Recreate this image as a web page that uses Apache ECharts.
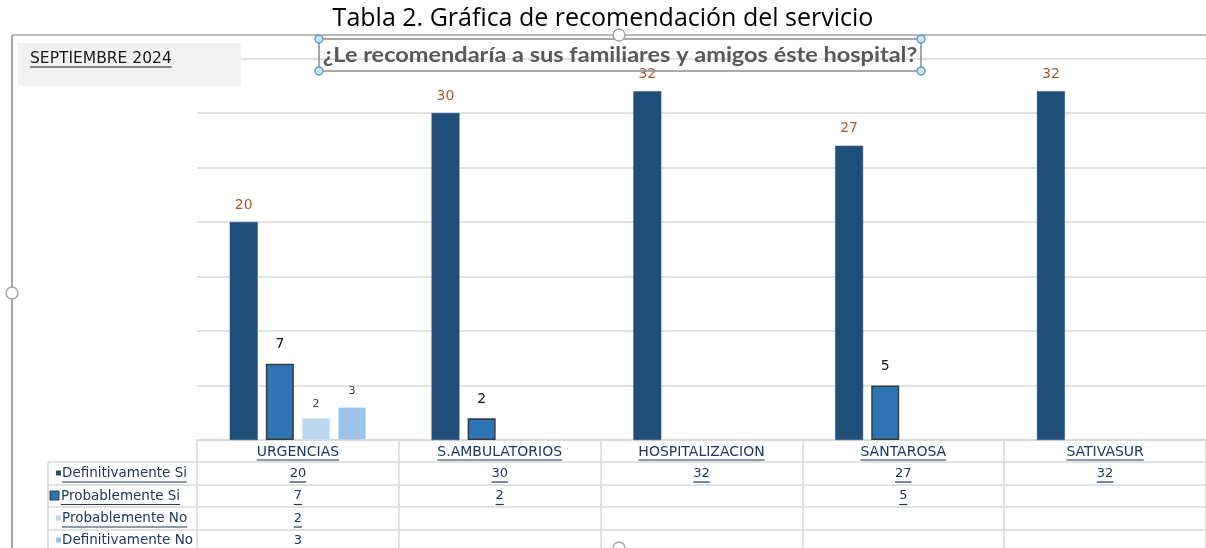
<!DOCTYPE html>
<html>
<head>
<meta charset="utf-8">
<script src="https://cdn.jsdelivr.net/npm/echarts@6/dist/echarts.min.js"></script>
<style>
  html, body { margin: 0; padding: 0; background: #fff; }
  #chart { width: 1206px; height: 548px; }
</style>
</head>
<body>
<div id="chart"></div>
<script>
// data
const categories = ["URGENCIAS", "S.AMBULATORIOS", "HOSPITALIZACION", "SANTAROSA", "SATIVASUR"];
const seriesNames = ["Definitivamente Si", "Probablemente Si", "Probablemente No", "Definitivamente No"];
const definitivamenteSi = [20, 30, 32, 27, 32];
const probablementeSi = [7, 2, null, 5, null];
const probablementeNo = [2, null, null, null, null];
const definitivamenteNo = [3, null, null, null, null];
const yTicks = [0, 5, 10, 15, 20, 25, 30, 35];

const allSeries = [definitivamenteSi, probablementeSi, probablementeNo, definitivamenteNo];
const colors = ["#1F4E79", "#2E75B6", "#BDD7EE", "#9DC3E6"];
const navy = "#1F3864";
const catFont = '14px "DejaVu Sans"';
const rowFont = '13.5px "DejaVu Sans"';
const valFont = '13px "DejaVu Sans"';

const chart = echarts.init(document.getElementById("chart"));

const labelStyles = [
  { color: "#A65E2E", fontSize: 14, distance: 10 },
  { color: "#111", fontSize: 14, distance: 12 },
  { color: "#404040", fontSize: 11, distance: 9 },
  { color: "#404040", fontSize: 11, distance: 11 },
];

chart.setOption({
  animation: false,
  title: {
    text: "Tabla 2. Gráfica de recomendación del servicio",
    left: "center", top: 1,
    textStyle: { fontFamily: "Open Sans", fontSize: 25, fontWeight: "normal", color: "#000" }
  },
  grid: { left: 197, right: 0, top: 58.5, bottom: 108 },
  xAxis: {
    type: "category",
    data: categories,
    axisLine: { lineStyle: { color: "#D9D9D9", width: 1.5 } },
    axisTick: { show: true, length: 108, lineStyle: { color: "#D9D9D9", width: 1.5 } },
    axisLabel: { color: navy, fontFamily: "DejaVu Sans", fontSize: 14, margin: 5 }
  },
  yAxis: {
    type: "value", min: yTicks[0], max: yTicks[yTicks.length - 1], interval: 5,
    axisLabel: { show: false }, axisLine: { show: false }, axisTick: { show: false },
    splitLine: { lineStyle: { color: "#D9D9D9", width: 1.5 } }
  },
  series: allSeries.map((d, i) => ({
    name: seriesNames[i],
    type: "bar",
    data: d,
    barWidth: 28,
    barGap: "29%",
    itemStyle: {
      color: colors[i],
      borderColor: i === 1 ? "#3a3a3a" : (i === 0 ? "#2a5a85" : "#dfeaf5"),
      borderWidth: i === 1 ? 1.5 : 0.5
    },
    label: {
      show: true, position: "top",
      color: labelStyles[i].color, fontSize: labelStyles[i].fontSize,
      distance: labelStyles[i].distance, fontFamily: "DejaVu Sans"
    }
  }))
});

// data table under the plot, placed through the axis scale
const ctx = document.createElement("canvas").getContext("2d");
const tw = (s, f) => { ctx.font = f; return ctx.measureText(s).width; };

const g = [];
const rowLines = [462, 485, 507, 530];
const rowMid = [473.5, 496, 518.5, 540.5];
const line = (x1, y1, x2, y2, color, w, z) => g.push({
  type: "line", z: z || 50, shape: { x1, y1, x2, y2 }, style: { stroke: color, lineWidth: w || 1.5 }
});

rowLines.forEach(y => line(48, y, 1206, y, "#D9D9D9"));
line(48, 462, 48, 548, "#D9D9D9");

// underline under category labels
categories.forEach((c, ci) => {
  const cx = chart.convertToPixel({ xAxisIndex: 0 }, ci);
  const w = tw(c, catFont);
  line(cx - w / 2, 460, cx + w / 2, 460, navy, 1.2);
});

// row labels with legend keys
seriesNames.forEach((name, ri) => {
  const y = rowMid[ri];
  const big = ri === 1;
  g.push({
    type: "rect", z: 50,
    shape: big ? { x: 50, y: y - 5, width: 9, height: 9 } : { x: 56, y: y - 3, width: 5, height: 5 },
    style: { fill: colors[ri], stroke: big ? "#3a3a3a" : null, lineWidth: 1 }
  });
  const tx = big ? 61 : 62;
  g.push({
    type: "text", z: 50,
    style: { text: name, x: tx, y: y, font: rowFont, fill: navy, textVerticalAlign: "middle" }
  });
  line(tx, y + 8.5, tx + tw(name, rowFont), y + 8.5, navy, 1.2);

  allSeries[ri].forEach((v, ci) => {
    if (v === null) return;
    const cx = chart.convertToPixel({ xAxisIndex: 0 }, ci);
    const s = String(v);
    const w = tw(s, valFont);
    g.push({
      type: "text", z: 50,
      style: { text: s, x: cx, y: y, font: valFont, fill: navy, textAlign: "center", textVerticalAlign: "middle" }
    });
    line(cx - w / 2, y + 8.5, cx + w / 2, y + 8.5, navy, 1.2);
  });
});

// month box
const monthFont = '15.5px "DejaVu Sans"';
g.push({ type: "rect", z: 60, shape: { x: 18, y: 43, width: 223, height: 43 }, style: { fill: "#F2F2F2" } });
g.push({
  type: "text", z: 61,
  style: { text: "SEPTIEMBRE 2024", x: 30, y: 59, font: monthFont, fill: "#1a1a1a", textVerticalAlign: "middle" }
});
line(30, 67, 30 + tw("SEPTIEMBRE 2024", monthFont), 67, "#1a1a1a", 1.2, 61);

// question box
g.push({ type: "rect", z: 60, shape: { x: 319, y: 39, width: 602, height: 32 }, style: { fill: "transparent", stroke: "#8c8c8c", lineWidth: 1.5 } });
g.push({
  type: "text", z: 61,
  x: 620, y: 55, scaleX: 1.12, originX: 0, originY: 0,
  style: {
    text: "¿Le recomendaría a sus familiares y amigos éste hospital?", x: 0, y: 0,
    font: 'bold 21px Lato', fill: "#595959", textAlign: "center", textVerticalAlign: "middle"
  }
});

// chart frame and selection handles
line(12, 35, 1206, 35, "#A6A6A6", 1.5);
line(12, 35, 12, 548, "#A6A6A6", 2);
[[319, 39], [921, 39], [319, 71], [921, 71]].forEach(([x, y]) => g.push({
  type: "circle", z: 62, shape: { cx: x, cy: y, r: 4 }, style: { fill: "#cfe3f7", stroke: "#5B9BD5", lineWidth: 1.5 }
}));
[[619, 35], [12, 293], [619, 548]].forEach(([x, y]) => g.push({
  type: "circle", z: 62, shape: { cx: x, cy: y, r: 6 }, style: { fill: "#fff", stroke: "#A6A6A6", lineWidth: 1.5 }
}));

chart.setOption({ graphic: g });
</script>
</body>
</html>
